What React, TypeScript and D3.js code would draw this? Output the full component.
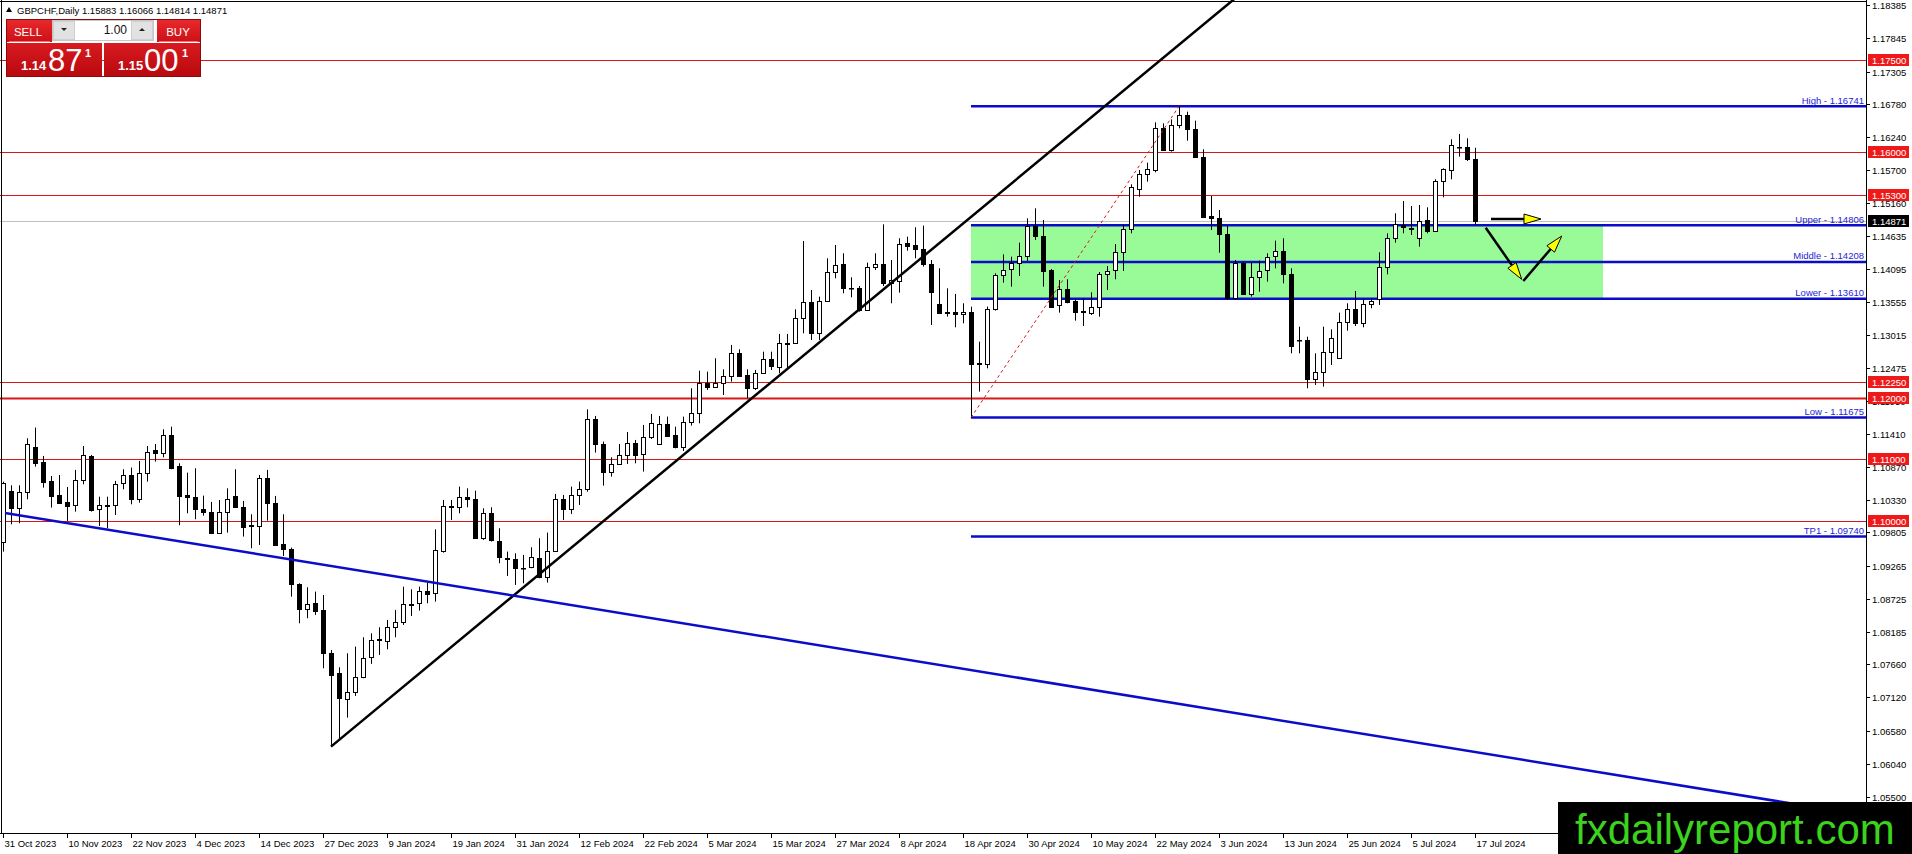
import React from "react";
import * as d3 from "d3";

// x-axis labels, one every 8 daily bars
const axisDates = [
  "31 Oct 2023", "10 Nov 2023", "22 Nov 2023", "4 Dec 2023", "14 Dec 2023", "27 Dec 2023",
  "9 Jan 2024", "19 Jan 2024", "31 Jan 2024", "12 Feb 2024", "22 Feb 2024", "5 Mar 2024",
  "15 Mar 2024", "27 Mar 2024", "8 Apr 2024", "18 Apr 2024", "30 Apr 2024", "10 May 2024",
  "22 May 2024", "3 Jun 2024", "13 Jun 2024", "25 Jun 2024", "5 Jul 2024", "17 Jul 2024",
];
const labelEvery = 8;

const openPrices = [
  1.09656, 1.10481, 1.10210, 1.10459, 1.11197, 1.10953, 1.10644, 1.10410, 1.10302, 1.10248,
  1.10655, 1.11051, 1.10183, 1.10248, 1.10248, 1.10606, 1.10741, 1.10356, 1.10768, 1.11148,
  1.11094, 1.11392, 1.10888, 1.10410, 1.10378, 1.10183, 1.10134, 1.09792, 1.10134, 1.10394,
  1.10215, 1.09920, 1.09917, 1.10687, 1.10280, 1.09618, 1.09532, 1.08962, 1.08566, 1.08658,
  1.08544, 1.07839, 1.07514, 1.07091, 1.07215, 1.07460, 1.07774, 1.08050, 1.08040, 1.08262,
  1.08344, 1.08637, 1.08653, 1.08854, 1.08816, 1.09505, 1.10230, 1.10215, 1.10378, 1.10345,
  1.09722, 1.10118, 1.09673, 1.09396, 1.09369, 1.09233, 1.09250, 1.09385, 1.09087, 1.09510,
  1.10345, 1.10183, 1.10410, 1.10508, 1.11647, 1.11246, 1.10796, 1.10920, 1.11067, 1.11257,
  1.11083, 1.11365, 1.11240, 1.11566, 1.11387, 1.11203, 1.11604, 1.11756, 1.12233, 1.12168,
  1.12233, 1.12352, 1.12721, 1.12369, 1.12163, 1.12407, 1.12624, 1.12493, 1.12884, 1.12884,
  1.13291, 1.13551, 1.13047, 1.13578, 1.14050, 1.14175, 1.13790, 1.13790, 1.13426, 1.14132,
  1.14170, 1.13871, 1.13904, 1.14511, 1.14479, 1.14414, 1.14175, 1.13519, 1.13388, 1.13388,
  1.13361, 1.13388, 1.12542, 1.12548, 1.13448, 1.13991, 1.14088, 1.14186, 1.14311, 1.14793,
  1.14636, 1.14077, 1.13508, 1.13774, 1.13573, 1.13410, 1.13383, 1.13481, 1.14007, 1.14072,
  1.14376, 1.14739, 1.15390, 1.15634, 1.15705, 1.16383, 1.16030, 1.16437, 1.16600, 1.16367,
  1.15911, 1.14956, 1.14918, 1.14658, 1.13616, 1.14197, 1.13681, 1.13969, 1.14072, 1.14305,
  1.14392, 1.14007, 1.12938, 1.12938, 1.12298, 1.12423, 1.12748, 1.12640, 1.13226, 1.13437,
  1.13209, 1.13519, 1.13600, 1.14132, 1.14593, 1.14810, 1.14755, 1.14593, 1.14891, 1.14717,
  1.15526, 1.15705, 1.16084, 1.16084, 1.15883,
];

const highPrices = [
  1.10633, 1.10573, 1.10573, 1.11338, 1.11512, 1.11051, 1.10725, 1.10741, 1.10546, 1.10823,
  1.11213, 1.11067, 1.10388, 1.10388, 1.10644, 1.10834, 1.10861, 1.10969, 1.11213, 1.11246,
  1.11484, 1.11528, 1.10931, 1.10779, 1.10850, 1.10405, 1.10302, 1.10334, 1.10524, 1.10834,
  1.10318, 1.10101, 1.10741, 1.10823, 1.10400, 1.10101, 1.09559, 1.08978, 1.08913, 1.08843,
  1.08788, 1.07893, 1.07611, 1.07839, 1.07948, 1.08100, 1.08165, 1.08262, 1.08382, 1.08545,
  1.08924, 1.08881, 1.08924, 1.08989, 1.09857, 1.10335, 1.10335, 1.10552, 1.10524, 1.10486,
  1.10199, 1.10215, 1.09874, 1.09494, 1.09467, 1.09440, 1.09564, 1.09711, 1.09803, 1.10432,
  1.10416, 1.10552, 1.10633, 1.11810, 1.11702, 1.11284, 1.11029, 1.11246, 1.11441, 1.11311,
  1.11555, 1.11734, 1.11702, 1.11691, 1.11528, 1.11691, 1.12152, 1.12439, 1.12423, 1.12640,
  1.12461, 1.12857, 1.12786, 1.12461, 1.12450, 1.12748, 1.12748, 1.13036, 1.13036, 1.13437,
  1.14549, 1.13752, 1.13643, 1.14267, 1.14484, 1.14349, 1.13958, 1.13817, 1.14197, 1.14349,
  1.14821, 1.14240, 1.14593, 1.14620, 1.14772, 1.14799, 1.14240, 1.14105, 1.13779, 1.13687,
  1.13535, 1.13481, 1.12911, 1.13481, 1.14023, 1.14332, 1.14294, 1.14522, 1.14918, 1.15081,
  1.14891, 1.14094, 1.13915, 1.13926, 1.13600, 1.13616, 1.13714, 1.14045, 1.14142, 1.14500,
  1.14810, 1.15472, 1.15705, 1.15824, 1.16480, 1.16464, 1.16529, 1.16741, 1.16654, 1.16508,
  1.16041, 1.15282, 1.15054, 1.14793, 1.14240, 1.14213, 1.14197, 1.14229, 1.14349, 1.14555,
  1.14593, 1.14105, 1.13155, 1.12992, 1.12721, 1.13155, 1.13112, 1.13383, 1.13535, 1.13736,
  1.13600, 1.13616, 1.14365, 1.14674, 1.15000, 1.15200, 1.15119, 1.15135, 1.15097, 1.15553,
  1.15732, 1.16204, 1.16291, 1.16220, 1.16066,
];

const lowPrices = [
  1.09494, 1.09938, 1.09955, 1.10345, 1.10877, 1.10535, 1.10210, 1.10280, 1.09993, 1.10145,
  1.10589, 1.10145, 1.09911, 1.09873, 1.10090, 1.10508, 1.10264, 1.10291, 1.10633, 1.10958,
  1.11029, 1.10834, 1.09922, 1.10118, 1.10020, 1.10079, 1.09785, 1.09781, 1.09803, 1.10210,
  1.09738, 1.09548, 1.09602, 1.09998, 1.09586, 1.09423, 1.08761, 1.08327, 1.08409, 1.08463,
  1.07595, 1.06320, 1.06456, 1.06792, 1.07145, 1.07432, 1.07666, 1.07812, 1.07904, 1.08100,
  1.08301, 1.08447, 1.08534, 1.08653, 1.08680, 1.09477, 1.10009, 1.10118, 1.10215, 1.09711,
  1.09684, 1.09656, 1.09304, 1.09098, 1.08951, 1.08978, 1.09223, 1.09060, 1.08989, 1.09494,
  1.10009, 1.10107, 1.10253, 1.10470, 1.11105, 1.10568, 1.10714, 1.10904, 1.10920, 1.10931,
  1.10796, 1.11327, 1.11230, 1.11365, 1.11175, 1.11132, 1.11544, 1.11582, 1.12125, 1.12163,
  1.12043, 1.12260, 1.12342, 1.11989, 1.12125, 1.12385, 1.12450, 1.12396, 1.12477, 1.12873,
  1.13047, 1.12938, 1.12938, 1.13562, 1.13942, 1.13698, 1.13633, 1.13399, 1.13416, 1.14077,
  1.13817, 1.13535, 1.13709, 1.14392, 1.14267, 1.14132, 1.13182, 1.13372, 1.13318, 1.13144,
  1.13209, 1.11675, 1.12098, 1.12477, 1.13416, 1.13871, 1.13806, 1.13980, 1.14224, 1.14566,
  1.13806, 1.13470, 1.13383, 1.13535, 1.13253, 1.13166, 1.13345, 1.13318, 1.13752, 1.13926,
  1.14061, 1.14674, 1.15271, 1.15515, 1.15667, 1.16014, 1.16003, 1.16383, 1.16182, 1.15905,
  1.14929, 1.14728, 1.14359, 1.13589, 1.13589, 1.13671, 1.13643, 1.13725, 1.13888, 1.14105,
  1.13860, 1.12721, 1.12721, 1.12152, 1.12206, 1.12179, 1.12531, 1.12635, 1.13090, 1.13166,
  1.13144, 1.13454, 1.13508, 1.14007, 1.14522, 1.14674, 1.14647, 1.14457, 1.14674, 1.14701,
  1.15260, 1.15553, 1.15922, 1.15851, 1.14814,
];

const closePrices = [
  1.10606, 1.10210, 1.10459, 1.11240, 1.10942, 1.10633, 1.10405, 1.10291, 1.10242, 1.10655,
  1.11067, 1.10172, 1.10248, 1.10242, 1.10589, 1.10741, 1.10356, 1.10768, 1.11121, 1.11094,
  1.11392, 1.10861, 1.10405, 1.10378, 1.10183, 1.10134, 1.09792, 1.10134, 1.10356, 1.10215,
  1.09900, 1.09915, 1.10687, 1.10280, 1.09602, 1.09532, 1.08962, 1.08566, 1.08642, 1.08533,
  1.07839, 1.07487, 1.07107, 1.07215, 1.07460, 1.07758, 1.08056, 1.08065, 1.08262, 1.08344,
  1.08637, 1.08630, 1.08854, 1.08800, 1.09521, 1.10237, 1.10226, 1.10378, 1.10345, 1.09722,
  1.10118, 1.09684, 1.09402, 1.09369, 1.09223, 1.09228, 1.09412, 1.09087, 1.09510, 1.10345,
  1.10183, 1.10410, 1.10508, 1.11647, 1.11246, 1.10796, 1.10920, 1.11067, 1.11257, 1.11067,
  1.11365, 1.11582, 1.11566, 1.11376, 1.11203, 1.11604, 1.11756, 1.12233, 1.12168, 1.12233,
  1.12352, 1.12721, 1.12352, 1.12163, 1.12407, 1.12624, 1.12515, 1.12884, 1.12879, 1.13291,
  1.13551, 1.13047, 1.13578, 1.14050, 1.14159, 1.13790, 1.13785, 1.13426, 1.14132, 1.14170,
  1.13871, 1.13915, 1.14506, 1.14473, 1.14414, 1.14175, 1.13725, 1.13383, 1.13383, 1.13361,
  1.13388, 1.12542, 1.12569, 1.13448, 1.13991, 1.14077, 1.14186, 1.14311, 1.14793, 1.14636,
  1.14067, 1.13481, 1.13774, 1.13551, 1.13399, 1.13388, 1.13470, 1.14007, 1.14067, 1.14376,
  1.14739, 1.15423, 1.15634, 1.15716, 1.16383, 1.16030, 1.16437, 1.16600, 1.16367, 1.15911,
  1.14945, 1.14918, 1.14658, 1.13616, 1.14197, 1.13681, 1.13969, 1.14067, 1.14294, 1.14392,
  1.14007, 1.12846, 1.12933, 1.12298, 1.12423, 1.12748, 1.12965, 1.13226, 1.13437, 1.13209,
  1.13519, 1.13573, 1.14121, 1.14593, 1.14821, 1.14772, 1.14750, 1.14880, 1.14717, 1.15526,
  1.15716, 1.16106, 1.16080, 1.15878, 1.14871,
];

const priceTicks = [
  1.18385, 1.17845, 1.17305, 1.16780, 1.16240, 1.15700, 1.15160, 1.14635, 1.14095, 1.13555,
  1.13015, 1.12475, 1.11950, 1.11410, 1.10870, 1.10330, 1.09805, 1.09265, 1.08725, 1.08185,
  1.07660, 1.07120, 1.06580, 1.06040, 1.05500,
];

const redLevels = [1.175, 1.16, 1.153, 1.1225, 1.12, 1.11, 1.1];
const boldRedLevel = 1.12;
const zoneNames = ["High", "Upper", "Middle", "Lower", "Low", "TP1"];
const zoneValues = [1.16741, 1.14806, 1.14208, 1.1361, 1.11675, 1.0974];
const zoneBars = [121, 200]; // green box from bar to bar
const lastPrice = 1.14871;
const headerText = "GBPCHF,Daily 1.15883 1.16066 1.14814 1.14871";

// drawn objects as [bar, price] anchors
const upTrend = [[41, 1.0632], [138.4, 1.16816]];
const downTrend = [[0.25, 1.10123], [179.6, 1.06325]];
const swingLine = [[121, 1.11675], [147, 1.16741]];
const arrowPaths = [
  [[186, 1.14907], [192.25, 1.14907]],
  [[185.34, 1.14765], [189.84, 1.13925]],
  [[190.04, 1.13897], [194.84, 1.1463]],
];

const W = 1912;
const H = 854;
const plotRight = 1866;
const plotBottom = 833;
const FONT = "'Liberation Sans', Arial, sans-serif";

const x = d3.scaleLinear().domain([-0.375, 232.875]).range([0, plotRight]);
const y = d3.scaleLinear().domain([1.18385, 1.055]).range([5.3, 797]);

const fmt = (v: number) => v.toFixed(5);

// extend a line through two anchors out to a given bar
const ray = (pts: number[][], toBar: number) => {
  const [[b0, p0], [b1, p1]] = pts;
  const slope = (p1 - p0) / (b1 - b0);
  return [[b0, p0], [toBar, p0 + slope * (toBar - b0)]];
};

const Arrow = ({ from, to }: { from: number[]; to: number[] }) => {
  const x0 = x(from[0]), y0 = y(from[1]);
  const x1 = x(to[0]), y1 = y(to[1]);
  const len = Math.hypot(x1 - x0, y1 - y0);
  const ux = (x1 - x0) / len, uy = (y1 - y0) / len;
  const head = 17, half = 5;
  const bx = x1 - ux * head, by = y1 - uy * head;
  const pts = [
    [x1, y1],
    [bx - uy * half, by + ux * half],
    [bx + uy * half, by - ux * half],
  ];
  return (
    <g>
      <line x1={x0} y1={y0} x2={bx} y2={by} stroke="#000" strokeWidth={2.5} />
      <polygon points={pts.map((p) => p.join(",")).join(" ")} fill="#ffff00" stroke="#000" strokeWidth={1} />
    </g>
  );
};

const Panel = () => (
  <g fontFamily={FONT}>
    <defs>
      <linearGradient id="redTop" x1="0" y1="0" x2="0" y2="1">
        <stop offset="0" stopColor="#e8292d" />
        <stop offset="1" stopColor="#cc1015" />
      </linearGradient>
      <linearGradient id="redBox" x1="0" y1="0" x2="0" y2="1">
        <stop offset="0" stopColor="#d81a20" />
        <stop offset="1" stopColor="#b80a0f" />
      </linearGradient>
    </defs>
    <rect x={6.5} y={19.5} width={194} height={57} fill="none" stroke="#8a0a0a" strokeWidth={1} />
    <rect x={7} y={20} width={45} height={22} fill="url(#redTop)" />
    <rect x={157} y={20} width={43} height={22} fill="url(#redTop)" />
    <line x1={9} y1={41.5} x2={50} y2={41.5} stroke="#f07070" />
    <line x1={159} y1={41.5} x2={198} y2={41.5} stroke="#f07070" />
    <text x={28} y={36} fill="#fff" fontSize={11.5} textAnchor="middle">SELL</text>
    <text x={178} y={36} fill="#fff" fontSize={11.5} textAnchor="middle">BUY</text>
    <rect x={52.5} y={20.5} width={101} height={20} fill="#f0f0f0" stroke="#c8c8c8" />
    <rect x={53.5} y={21.5} width={21} height={18} fill="#e2e2e2" stroke="#cfcfcf" />
    <rect x={131.5} y={21.5} width={21} height={18} fill="#e2e2e2" stroke="#cfcfcf" />
    <rect x={75} y={21} width={56} height={19} fill="#fff" />
    <polygon points="61,28 67,28 64,31" fill="#222" />
    <polygon points="139,31 145,31 142,28" fill="#222" />
    <text x={127} y={34} fontSize={12} textAnchor="end" fill="#111">1.00</text>
    <rect x={7} y={43} width={95} height={33} fill="url(#redBox)" />
    <rect x={104} y={43} width={96} height={33} fill="url(#redBox)" />
    <text x={21} y={70} fill="#fff" fontSize={13} fontWeight="bold">1.14</text>
    <text x={48} y={70.5} fill="#fff" fontSize={31}>87</text>
    <text x={85} y={57} fill="#fff" fontSize={11} fontWeight="bold">1</text>
    <text x={118} y={70} fill="#fff" fontSize={13} fontWeight="bold">1.15</text>
    <text x={144} y={70.5} fill="#fff" fontSize={31}>00</text>
    <text x={182} y={57} fill="#fff" fontSize={11} fontWeight="bold">1</text>
  </g>
);

const Chart = () => {
  const bars = d3.range(openPrices.length);
  const up = ray(upTrend, 240);
  const down = ray(downTrend, 240);
  const lastY = Math.round(y(lastPrice)) + 0.5;

  return (
    <svg width={W} height={H} style={{ position: "absolute", left: 0, top: 0, background: "#fff" }}>
      <defs>
        <clipPath id="plot">
          <rect x={0} y={0} width={plotRight} height={plotBottom} />
        </clipPath>
      </defs>
      <rect x={0} y={0} width={W} height={H} fill="#fff" />

      <g clipPath="url(#plot)">
        {/* green zone */}
        <rect
          x={x(zoneBars[0])}
          y={y(zoneValues[1])}
          width={x(zoneBars[1]) - x(zoneBars[0])}
          height={y(zoneValues[3]) - y(zoneValues[1])}
          fill="#98fb98"
        />
        {/* current price line */}
        <line x1={0} x2={plotRight} y1={lastY} y2={lastY} stroke="#c0c0c0" strokeWidth={1} />
        {/* red levels */}
        {redLevels.map((v) => {
          const yy = Math.round(y(v)) + 0.5;
          return (
            <line key={v} x1={0} x2={plotRight} y1={yy} y2={yy} stroke="#d81818"
              strokeWidth={v === boldRedLevel ? 2 : 1} />
          );
        })}
        {/* blue zone levels */}
        {zoneValues.map((v) => (
          <line key={v} x1={x(zoneBars[0])} x2={plotRight} y1={y(v)} y2={y(v)} stroke="#0b0bc8" strokeWidth={2.5} />
        ))}
        {/* candles */}
        {bars.map((i) => {
          const cx = Math.round(x(i));
          const o = openPrices[i], c = closePrices[i];
          const bull = c >= o;
          const top = Math.round(y(Math.max(o, c)));
          const bot = Math.round(y(Math.min(o, c)));
          return (
            <g key={i}>
              <line x1={cx + 0.5} x2={cx + 0.5} y1={y(highPrices[i])} y2={y(lowPrices[i])} stroke="#000" strokeWidth={1} />
              <rect x={cx - 1.5} y={top + 0.5} width={4} height={Math.max(bot - top, 0.5)}
                fill={bull ? "#fff" : "#000"} stroke="#000" strokeWidth={1} />
            </g>
          );
        })}
        {/* swing dotted line */}
        <line x1={x(swingLine[0][0])} y1={y(swingLine[0][1])} x2={x(swingLine[1][0])} y2={y(swingLine[1][1])}
          stroke="#d81818" strokeWidth={1} strokeDasharray="3,3" />
        {/* trend lines */}
        <line x1={x(up[0][0])} y1={y(up[0][1])} x2={x(up[1][0])} y2={y(up[1][1])} stroke="#000" strokeWidth={2.5} />
        <line x1={x(down[0][0])} y1={y(down[0][1])} x2={x(down[1][0])} y2={y(down[1][1])} stroke="#0b0bc8" strokeWidth={2.5} />
        {/* arrows */}
        {arrowPaths.map((a, i) => (
          <Arrow key={i} from={a[0]} to={a[1]} />
        ))}
        {/* zone labels */}
        {zoneNames.map((n, i) => (
          <text key={n} x={plotRight - 2} y={y(zoneValues[i]) - 2.5} fontFamily={FONT} fontSize={9.5}
            fill="#2424d8" textAnchor="end">{`${n} - ${fmt(zoneValues[i])}`}</text>
        ))}
      </g>

      {/* frame */}
      <line x1={0} x2={plotRight} y1={1.5} y2={1.5} stroke="#000" />
      <line x1={1.5} x2={1.5} y1={0} y2={plotBottom} stroke="#000" />

      {/* right price axis */}
      <g fontFamily={FONT} fontSize={9.5}>
        <line x1={plotRight + 0.5} x2={plotRight + 0.5} y1={0} y2={plotBottom + 1} stroke="#000" />
        {priceTicks.map((v) => {
          const yy = Math.round(y(v)) + 0.5;
          return (
            <g key={v}>
              <line x1={plotRight} x2={plotRight + 4} y1={yy} y2={yy} stroke="#000" />
              <text x={plotRight + 6} y={yy + 3.5} fill="#000">{fmt(v)}</text>
            </g>
          );
        })}
        {redLevels.map((v) => {
          const yy = Math.round(y(v));
          return (
            <g key={v}>
              <rect x={plotRight + 2} y={yy - 6} width={41} height={12} fill="#ee1a1a" />
              <text x={plotRight + 6} y={yy + 3.5} fill="#fff">{fmt(v)}</text>
            </g>
          );
        })}
        <rect x={plotRight + 2} y={Math.round(y(lastPrice)) - 6} width={41} height={12} fill="#000" />
        <text x={plotRight + 6} y={Math.round(y(lastPrice)) + 3.5} fill="#fff">{fmt(lastPrice)}</text>
      </g>

      {/* bottom time axis */}
      <g fontFamily={FONT} fontSize={9.5}>
        <line x1={0} x2={plotRight + 1} y1={plotBottom + 0.5} y2={plotBottom + 0.5} stroke="#000" />
        {axisDates.map((d, i) => {
          const tx = Math.round(x(i * labelEvery)) + 0.5;
          return (
            <g key={d}>
              <line x1={tx} x2={tx} y1={plotBottom} y2={plotBottom + 5} stroke="#000" />
              <text x={tx + 1} y={plotBottom + 14} fill="#000">{d}</text>
            </g>
          );
        })}
      </g>

      {/* header */}
      <polygon points="6,12 12,12 9,7" fill="#000" />
      <text x={17} y={13.5} fontFamily={FONT} fontSize={9.5} fill="#000">{headerText}</text>

      <Panel />

      {/* watermark */}
      <rect x={1558} y={802} width={W - 1558} height={H - 802} fill="#000" />
      <text x={1575} y={844} fontFamily={FONT} fontSize={42} fill="#3cd21e">fxdailyreport.com</text>
    </svg>
  );
};

export default function App() {
  return <Chart />;
}
